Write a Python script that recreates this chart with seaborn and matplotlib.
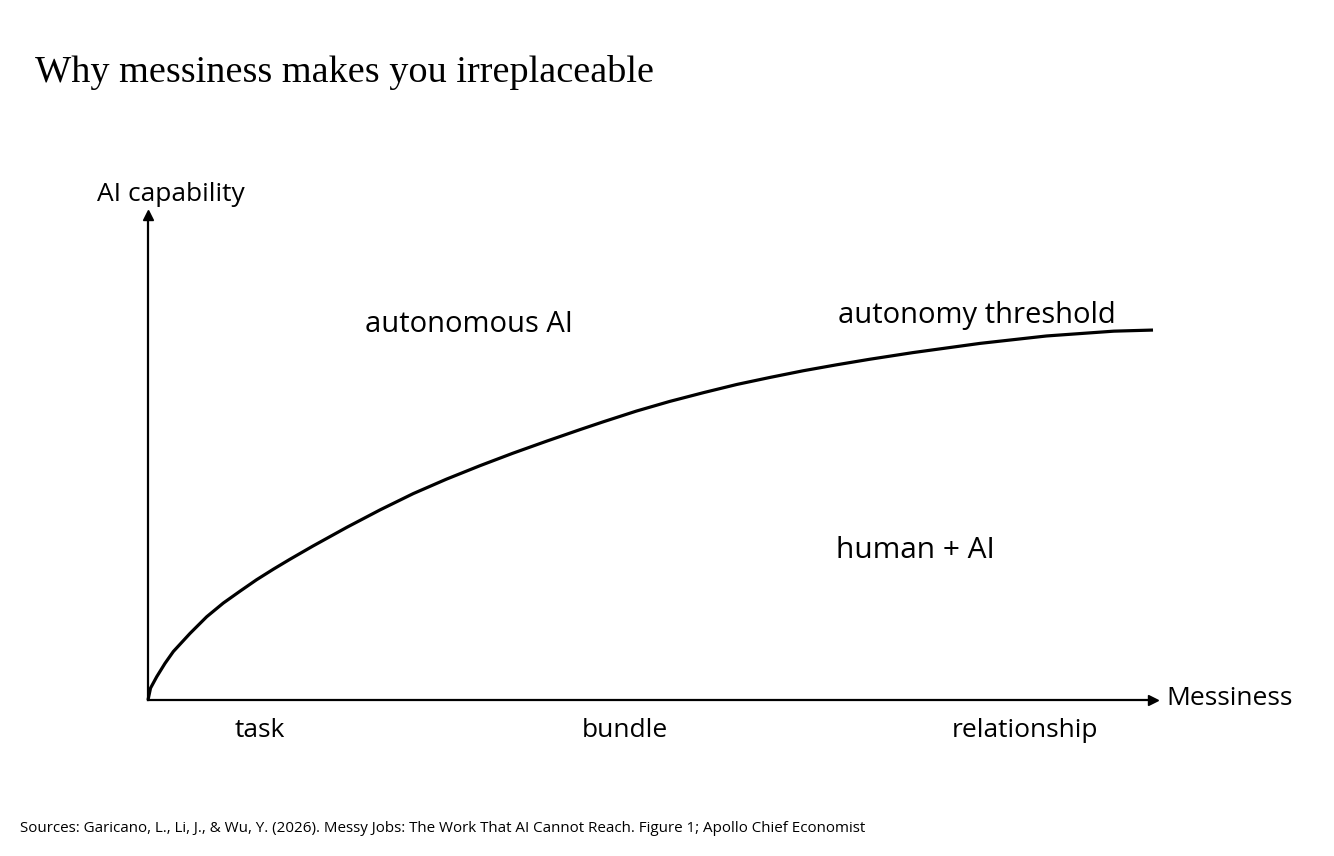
import matplotlib
matplotlib.use("Agg")
import matplotlib.pyplot as plt
import seaborn as sns
import pandas as pd

# autonomy threshold curve
# (messiness 0..1 along the axis, capability 1 = level at the right end)
messiness = [0.0, 0.0025, 0.0087, 0.0169, 0.0252, 0.0418, 0.0584, 0.0749, 0.0915,
             0.108, 0.125, 0.141, 0.164, 0.198, 0.231, 0.264, 0.297, 0.330, 0.363,
             0.397, 0.430, 0.453, 0.486, 0.519, 0.553, 0.586, 0.619, 0.652, 0.685,
             0.718, 0.761, 0.828, 0.894, 0.961, 1.0]
capability = [0.0, 0.032, 0.063, 0.099, 0.131, 0.180, 0.225, 0.262, 0.294,
              0.325, 0.354, 0.380, 0.416, 0.467, 0.514, 0.558, 0.597, 0.633, 0.667,
              0.700, 0.731, 0.752, 0.781, 0.807, 0.831, 0.853, 0.872, 0.890, 0.906,
              0.921, 0.939, 0.964, 0.984, 0.997, 1.0]

job_types = ['task', 'bundle', 'relationship']
job_pos = [0.111, 0.475, 0.873]

title = 'Why messiness makes you irreplaceable'
source = ('Sources: Garicano, L., Li, J., & Wu, Y. (2026). Messy Jobs: The Work That AI '
          'Cannot Reach. Figure 1; Apollo Chief Economist')

df = pd.DataFrame({'messiness': messiness, 'capability': capability})

sns.set_style("white")
plt.rcParams['font.family'] = ['Open Sans', 'DejaVu Sans']
plt.rcParams['text.color'] = 'black'
plt.rcParams['xtick.color'] = 'black'

fig = plt.figure(figsize=(13.34, 8.56), dpi=100)
ax = fig.add_axes([148/1334, (856-700)/856, 1005/1334, 485/856])

sns.lineplot(data=df, x='messiness', y='capability', color='black', linewidth=2.3,
             ax=ax, clip_on=False, solid_joinstyle='round', solid_capstyle='butt')

ax.set_xlim(0, 1.0)
ax.set_ylim(0, 1.311)
sns.despine(ax=ax)
for s in ['left', 'bottom']:
    ax.spines[s].set_linewidth(1.6)
    ax.spines[s].set_color('black')

# arrow heads on the axes
ax.plot(1, 0, '>k', markersize=7, transform=ax.get_yaxis_transform(), clip_on=False)
ax.plot(0, 1, '^k', markersize=7, transform=ax.get_xaxis_transform(), clip_on=False)

ax.set_xticks(job_pos)
ax.set_xticklabels(job_types, fontsize=19)
ax.set_yticks([])
ax.tick_params(axis='x', length=0, pad=13)
ax.set_xlabel('')
ax.set_ylabel('')

ax.text(0.023, 1.367, 'AI capability', ha='center', va='center', fontsize=19)
ax.text(1.013, 0.005, 'Messiness', ha='left', va='center', fontsize=19)
ax.text(0.319, 1.016, 'autonomous AI', ha='center', va='center', fontsize=21)
ax.text(0.825, 1.038, 'autonomy threshold', ha='center', va='center', fontsize=21)
ax.text(0.764, 0.403, 'human + AI', ha='center', va='center', fontsize=21.5)

fig.text(35/1334, 1 - 72/856, title, ha='left', va='center', fontsize=27.5,
         family=['Liberation Serif', 'DejaVu Serif'])
fig.text(20/1334, 1 - 828/856, source, ha='left', va='center', fontsize=10.9)

fig.savefig('out.png', dpi=100)
